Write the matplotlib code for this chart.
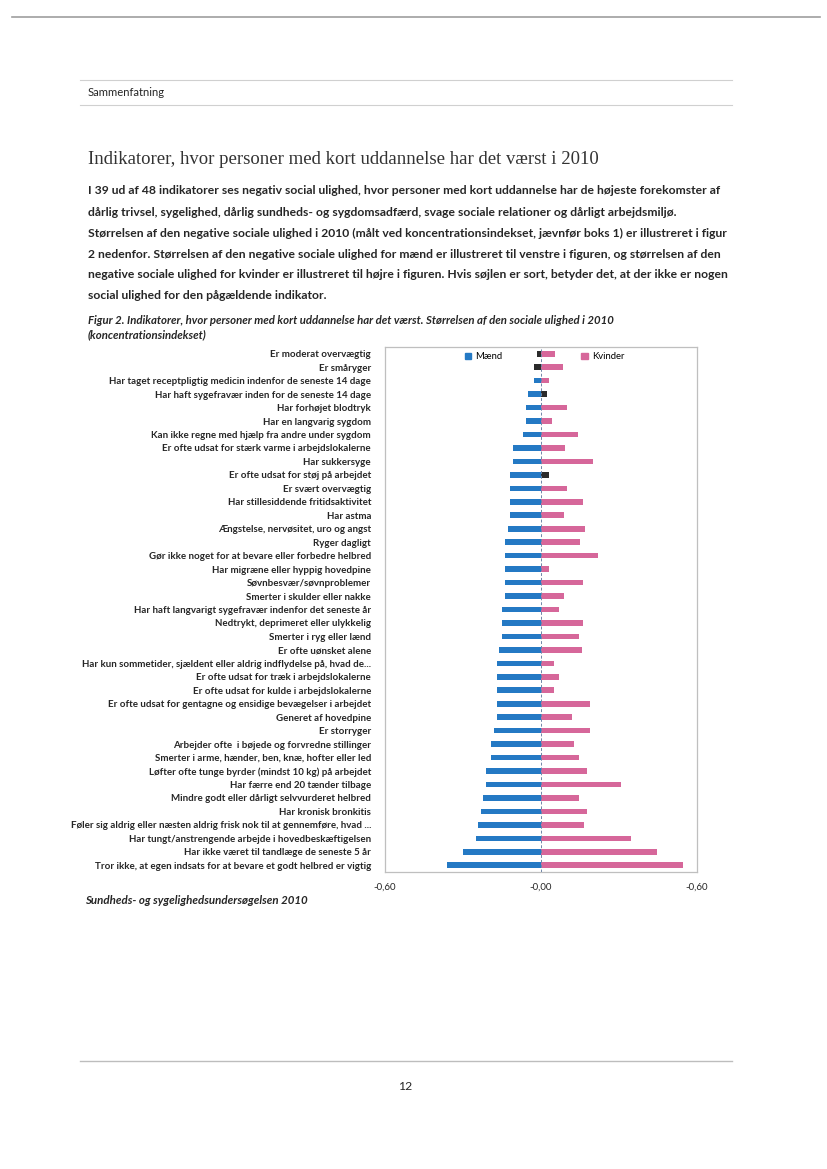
"""Figur 2: indikatorer hvor personer med kort uddannelse har det værst (koncentrationsindeks)."""

import numpy as np
import matplotlib
matplotlib.use("Agg")
import matplotlib.pyplot as plt
import matplotlib.patches as mpatches
from matplotlib.ticker import FixedLocator, FuncFormatter

plt.rcParams["font.family"] = ["Lato", "DejaVu Sans"]

# Indikatorer, top til bund som i figuren
indikatorer = [
    "Er moderat overvægtig",
    "Er småryger",
    "Har taget receptpligtig medicin indenfor de seneste 14 dage",
    "Har haft sygefravær inden for de seneste 14 dage",
    "Har forhøjet blodtryk",
    "Har en langvarig sygdom",
    "Kan ikke regne med hjælp fra andre under sygdom",
    "Er ofte udsat for stærk varme i arbejdslokalerne",
    "Har sukkersyge",
    "Er ofte udsat for støj på arbejdet",
    "Er svært overvægtig",
    "Har stillesiddende fritidsaktivitet",
    "Har astma",
    "Ængstelse, nervøsitet, uro og angst",
    "Ryger dagligt",
    "Gør ikke noget for at bevare eller forbedre helbred",
    "Har migræne eller hyppig hovedpine",
    "Søvnbesvær/søvnproblemer",
    "Smerter i skulder eller nakke",
    "Har haft langvarigt sygefravær indenfor det seneste år",
    "Nedtrykt, deprimeret eller ulykkelig",
    "Smerter i ryg eller lænd",
    "Er ofte uønsket alene",
    "Har kun sommetider, sjældent eller aldrig indflydelse på, hvad de...",
    "Er ofte udsat for træk i arbejdslokalerne",
    "Er ofte udsat for kulde i arbejdslokalerne",
    "Er ofte udsat for gentagne og ensidige bevægelser i arbejdet",
    "Generet af hovedpine",
    "Er storryger",
    "Arbejder ofte  i bøjede og forvredne stillinger",
    "Smerter i arme, hænder, ben, knæ, hofter eller led",
    "Løfter ofte tunge byrder (mindst 10 kg) på arbejdet",
    "Har færre end 20 tænder tilbage",
    "Mindre godt eller dårligt selvvurderet helbred",
    "Har kronisk bronkitis",
    "Føler sig aldrig eller næsten aldrig frisk nok til at gennemføre, hvad ...",
    "Har tungt/anstrengende arbejde i hovedbeskæftigelsen",
    "Har ikke været til tandlæge de seneste 5 år",
    "Tror ikke, at egen indsats for at bevare et godt helbred er vigtig",
]

# Koncentrationsindeks (negativ social ulighed)
ci_maend = [
    -0.017, -0.027, -0.027, -0.049, -0.058, -0.058, -0.068, -0.109, -0.109, -0.119,
    -0.119, -0.119, -0.119, -0.128, -0.140, -0.140, -0.140, -0.140, -0.140, -0.150,
    -0.150, -0.150, -0.162, -0.170, -0.170, -0.170, -0.170, -0.170, -0.180, -0.192,
    -0.192, -0.210, -0.210, -0.222, -0.232, -0.241, -0.251, -0.301, -0.362,
]
ci_kvinder = [
    -0.054, -0.083, -0.032, -0.024, -0.100, -0.041, -0.141, -0.092, -0.201, -0.032,
    -0.100, -0.160, -0.090, -0.170, -0.150, -0.220, -0.030, -0.160, -0.088, -0.070,
    -0.160, -0.147, -0.159, -0.049, -0.069, -0.049, -0.187, -0.118, -0.187, -0.128,
    -0.147, -0.178, -0.306, -0.147, -0.176, -0.167, -0.346, -0.445, -0.545,
]
# Ingen social ulighed (sort søjle)
ingen_ulighed_maend = [0, 1]
ingen_ulighed_kvinder = [3, 9]

BLUE = "#2479C4"
PINK = "#D6679A"
BLACK = "#2B2B2B"
TEXT = "#262626"

W, H = 828, 1169


def px(x, y):
    """Pixel position on the page -> figure fraction."""
    return x / W, 1 - y / H


fig = plt.figure(figsize=(W / 100, H / 100), dpi=100, facecolor="white")

# --- page furniture ---
def hline(y, x0, x1, color="#BDBDBD", lw=1.0):
    fig.add_artist(plt.Line2D([x0 / W, x1 / W], [1 - y / H, 1 - y / H],
                              color=color, lw=lw, transform=fig.transFigure))

hline(17, 12, 820, color="#9E9E9E", lw=1.2)
hline(80, 80, 732, color="#D0D0D0", lw=0.8)
hline(105, 80, 732, color="#D0D0D0", lw=0.8)
hline(1061, 80, 732, color="#BDBDBD", lw=1.0)

fig.text(*px(88, 93), "Sammenfatning", fontsize=8.1, color=TEXT, va="center")

fig.text(*px(88, 159), "Indikatorer, hvor personer med kort uddannelse har det værst i 2010",
         fontsize=13.5, family=["Liberation Serif", "DejaVu Serif"], color="#333333",
         va="center")

paragraph = [
    "I 39 ud af 48 indikatorer ses negativ social ulighed, hvor personer med kort uddannelse har de højeste forekomster af",
    "dårlig trivsel, sygelighed, dårlig sundheds- og sygdomsadfærd, svage sociale relationer og dårligt arbejdsmiljø.",
    "Størrelsen af den negative sociale ulighed i 2010 (målt ved koncentrationsindekset, jævnfør boks 1) er illustreret i figur",
    "2 nedenfor. Størrelsen af den negative sociale ulighed for mænd er illustreret til venstre i figuren, og størrelsen af den",
    "negative sociale ulighed for kvinder er illustreret til højre i figuren. Hvis søjlen er sort, betyder det, at der ikke er nogen",
    "social ulighed for den pågældende indikator.",
]
for i, line in enumerate(paragraph):
    fig.text(*px(88, 191 + i * 21), line, fontsize=8.7, color=TEXT, va="center",
             fontweight="bold")

fig.text(*px(88, 320), "Figur 2. Indikatorer, hvor personer med kort uddannelse har det værst. "
         "Størrelsen af den sociale ulighed i 2010", fontsize=8.2, style="italic",
         fontweight="bold", color=TEXT, va="center")
fig.text(*px(88, 335), "(koncentrationsindekset)", fontsize=8.2, style="italic",
         fontweight="bold", color=TEXT, va="center")

fig.text(*px(85, 901), "Sundheds- og sygelighedsundersøgelsen 2010", fontsize=8.3,
         style="italic", fontweight="bold", color=TEXT, va="center")

fig.text(*px(405, 1086), "12", fontsize=8.8, color=TEXT, ha="center", va="center")

# --- chart ---
ax = fig.add_axes([385 / W, 1 - 872 / H, (697 - 385) / W, (872 - 347) / H])

n = len(indikatorer)
y = np.arange(n)
maend = np.array(ci_maend)
kvinder = -np.array(ci_kvinder)

col_m = [BLACK if i in ingen_ulighed_maend else BLUE for i in range(n)]
col_k = [BLACK if i in ingen_ulighed_kvinder else PINK for i in range(n)]

ax.barh(y, maend, height=0.42, color=col_m, linewidth=0)
ax.barh(y, kvinder, height=0.42, color=col_k, linewidth=0)
ax.axvline(0, color="#6F86A8", lw=0.7, ls=(0, (3, 2)), zorder=3)

ax.set_xlim(-0.6, 0.6)
ax.set_ylim(n - 0.5, -0.5)
ax.set_yticks(y)
ax.set_yticklabels(indikatorer, fontsize=7.0, color=TEXT, fontweight="bold")
ax.xaxis.set_major_locator(FixedLocator([-0.6, 0.0, 0.6]))
ax.xaxis.set_major_formatter(FuncFormatter(lambda v, _: "-" + f"{abs(v):.2f}".replace(".", ",")))
ax.tick_params(axis="y", length=0, pad=10)
ax.tick_params(axis="x", length=0, pad=8, labelsize=7.0, labelcolor=TEXT)
for spine in ax.spines.values():
    spine.set_color("#BFBFBF")
    spine.set_linewidth(0.9)

handles = [mpatches.Patch(color=BLUE, label="Mænd"),
           mpatches.Patch(color=PINK, label="Kvinder")]
ax.legend(handles=handles, loc="center", bbox_to_anchor=(0.511, 0.981), ncol=2,
          frameon=False, fontsize=6.8, handlelength=0.7, handleheight=0.7,
          handletextpad=0.4, columnspacing=8.4)

fig.savefig("out.png", dpi=100, facecolor="white")
